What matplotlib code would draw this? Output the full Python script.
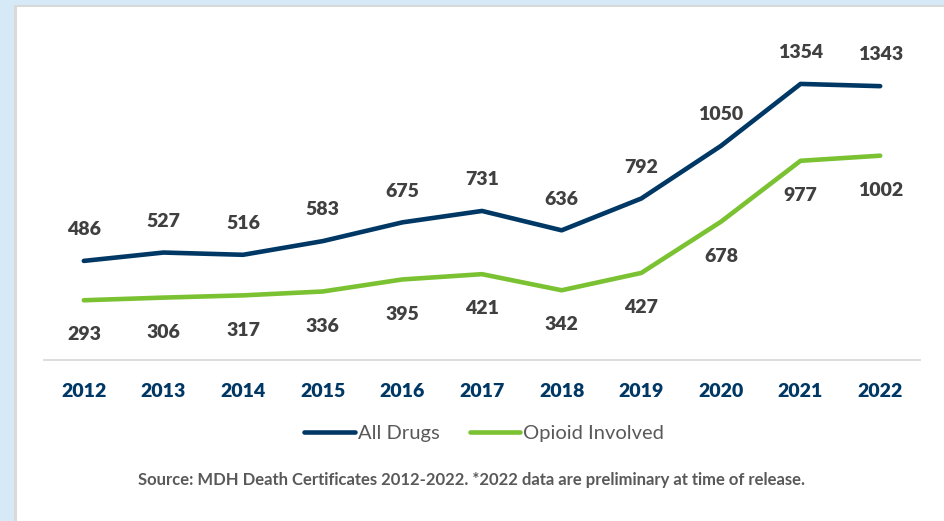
import matplotlib
matplotlib.use("Agg")
import matplotlib.pyplot as plt
from matplotlib.patches import Rectangle

years = [2012, 2013, 2014, 2015, 2016, 2017, 2018, 2019, 2020, 2021, 2022]
all_drugs = [486, 527, 516, 583, 675, 731, 636, 792, 1050, 1354, 1343]
opioid = [293, 306, 317, 336, 395, 421, 342, 427, 678, 977, 1002]
series_names = ["All Drugs", "Opioid Involved"]
source_text = "Source: MDH Death Certificates 2012-2022. *2022 data are preliminary at time of release."

NAVY = "#003865"
GREEN = "#7ac231"
LABEL = "#404040"
W, H = 944, 521

plt.rcParams['font.family'] = ['Lato', 'DejaVu Sans']

fig = plt.figure(figsize=(W / 100, H / 100), dpi=100)
fig.patch.set_facecolor("#d6e9f7")
# white panel with grey edge
fig.patches.append(Rectangle((14 / W, 0), 1, (H - 5) / H, transform=fig.transFigure,
                             facecolor="#d9d9d9", edgecolor="none", zorder=-2))
fig.patches.append(Rectangle((16.5 / W, 0), 1, (H - 7) / H, transform=fig.transFigure,
                             facecolor="white", edgecolor="none", zorder=-1))

# axes: x from 44 to 920 px, y zero at 360 px
ax_left, ax_right = 44, 920
y0_px = 360
ymax = 1500
px_per_unit = 0.2039
ax_top = y0_px - ymax * px_per_unit
ax = fig.add_axes([ax_left / W, (H - y0_px) / H, (ax_right - ax_left) / W, (y0_px - ax_top) / H])
ax.set_facecolor("none")
ax.set_xlim(years[0] - 0.5, years[-1] + 0.5)
ax.set_ylim(0, ymax)

ax.plot(years, all_drugs, color=NAVY, lw=3.3, solid_capstyle="round", solid_joinstyle="round",
        label=series_names[0], zorder=3)
ax.plot(years, opioid, color=GREEN, lw=3.3, solid_capstyle="round", solid_joinstyle="round",
        label=series_names[1], zorder=3)

for x, v in zip(years, all_drugs):
    ax.annotate(str(v), (x, v), xytext=(0, 22.5), textcoords="offset points",
                ha="center", va="center", fontsize=14, fontweight="heavy", color=LABEL)
for x, v in zip(years, opioid):
    ax.annotate(str(v), (x, v), xytext=(0, -25), textcoords="offset points",
                ha="center", va="center", fontsize=14, fontweight="heavy", color=LABEL)

for s in ["top", "right", "left"]:
    ax.spines[s].set_visible(False)
ax.spines["bottom"].set_color("#d9d9d9")
ax.spines["bottom"].set_linewidth(1.3)
ax.set_yticks([])
ax.set_xticks(years)
ax.set_xticklabels([str(y) for y in years], fontsize=14, fontweight="heavy", color=NAVY)
ax.tick_params(axis="x", length=0, pad=16.5)

leg = fig.legend(loc="center", bbox_to_anchor=(484 / W, 1 - 433 / H), ncol=2, frameon=False,
                 fontsize=14.5, handlelength=2.5, handletextpad=0.15, columnspacing=1.5)
for t in leg.get_texts():
    t.set_color("#595959")
for l in leg.get_lines():
    l.set_linewidth(3.3)
    l.set_solid_capstyle("round")

fig.text(472 / W, 1 - 480 / H, source_text, ha="center", va="center", fontsize=12,
         fontweight="bold", color="#595959")

fig.savefig("out.png", dpi=100, facecolor=fig.get_facecolor())
